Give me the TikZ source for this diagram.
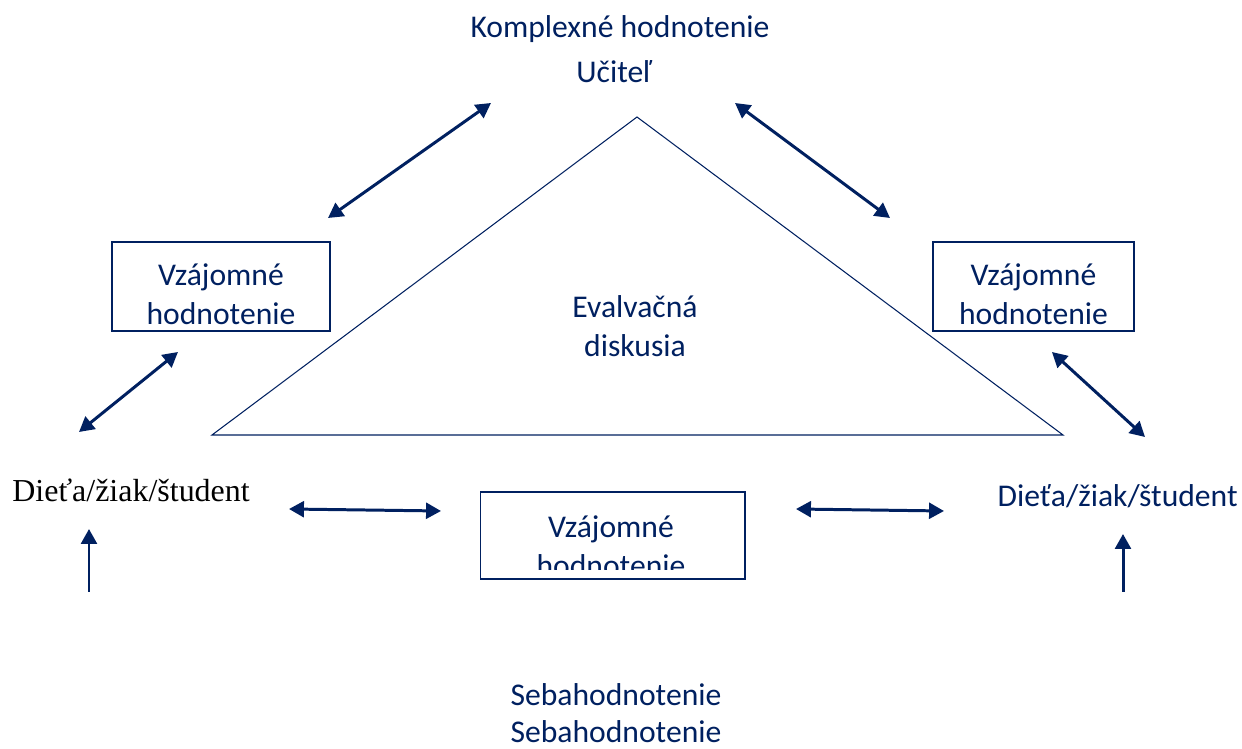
\documentclass[tikz,border=0pt]{standalone}
\usepackage{fontspec}
\setmainfont{Carlito}
\newfontfamily\timesfont{Liberation Serif}
\usetikzlibrary{arrows.meta, positioning}
\definecolor{navy}{HTML}{002060}

\begin{document}
\begin{tikzpicture}[x=0.02cm, y=-0.02cm,
	every node/.style={text=navy, inner sep=0pt, font=\fontsize{18}{22}\selectfont},
	box/.style={draw=navy, line width=0.6pt},
	link/.style={<->, draw=navy, line width=1.7pt},
	rise/.style={->, draw=navy, line width=1.7pt},
	>={Triangle[length=8.5pt, width=9pt]}]
	\useasboundingbox (0,0) rectangle (1242,749);

	% top
	\node[anchor=base] (komplex) at (620,38) {Komplexné hodnotenie};
	\node[anchor=base] (ucitel) at (614,83) {Učiteľ};

	% triangle
	\coordinate (apex) at (637,117);
	\coordinate (baseL) at (212,435);
	\coordinate (baseR) at (1063,435);
	\draw[navy, line width=0.6pt] (apex) -- (baseR) -- (baseL) -- cycle;
	\node[align=center] (evalvacna) at (635,326) {Evalvačná\\diskusia};

	% boxes
	\node[box, minimum width=4.36cm, minimum height=1.78cm] (vzajL) at (221,286.5) {};
	\node[align=center] (vzajLtext) at (221,294) {Vzájomné\\hodnotenie};
	\node[box, minimum width=4.02cm, minimum height=1.78cm] (vzajR) at (1033.5,286.5) {};
	\node[align=center] (vzajRtext) at (1033.5,294) {Vzájomné\\hodnotenie};
	\node[box, minimum width=5.3cm, minimum height=1.74cm] (vzajB) at (612.5,535.5) {};
	\begin{scope}
		\clip (vzajB.north west) rectangle ([yshift=0.2cm]vzajB.south east);
		\node[align=center] (vzajBtext) at (611,546) {Vzájomné\\hodnotenie};
	\end{scope}

	% pupils
	\node[anchor=base west, text=black, font=\timesfont\fontsize{18.2}{22}\selectfont] (dietaL) at (12,502) {Dieťa/žiak/študent};
	\node[anchor=base east] (dietaR) at (1238,507) {Dieťa/žiak/študent};

	% bottom
	\node[anchor=base] (seba1) at (616,706) {Sebahodnotenie};
	\node[anchor=base] (seba2) at (616,743) {Sebahodnotenie};

	% arrows
	\coordinate (tlA) at (328,218);  \coordinate (tlB) at (491,103);
	\coordinate (trA) at (735,103);  \coordinate (trB) at (890,218);
	\coordinate (mlA) at (178,352);  \coordinate (mlB) at (79,432);
	\coordinate (mrA) at (1052,352); \coordinate (mrB) at (1145,437);
	\coordinate (blA) at (289,509);  \coordinate (blB) at (441,511);
	\coordinate (brA) at (796,509);  \coordinate (brB) at (944,511);
	\coordinate (ulA) at (89,592);   \coordinate (ulB) at (89,529);
	\coordinate (urA) at (1123,592); \coordinate (urB) at (1123,534);

	\path
	    (tlA) edge[link] (tlB)
	    (trA) edge[link] (trB)
	    (mlA) edge[link] (mlB)
	    (mrA) edge[link] (mrB)
	    (blA) edge[link] (blB)
	    (brA) edge[link] (brB)
	    (ulA) edge[rise] (ulB)
	    (urA) edge[rise] (urB);
\end{tikzpicture}
\end{document}
